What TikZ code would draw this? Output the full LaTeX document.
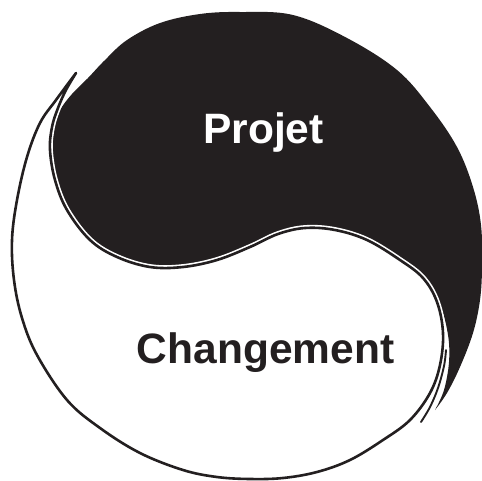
\documentclass[tikz,border=0pt]{standalone}
\usepackage{fontspec}
\setmainfont{Liberation Sans}
\definecolor{ink}{HTML}{231F20}
\tikzset{
  outline/.style={draw=ink, line width=2.6pt, line cap=round, line join=round,
    preaction={draw=white, line width=5.8pt}},
  tail/.style={draw=ink, line width=1.9pt, line cap=round,
    preaction={draw=white, line width=3.6pt}},
  label/.style={font=\fontsize{42.5}{42.5}\selectfont\bfseries, anchor=base, inner sep=0pt}
}
\begin{document}
\begin{tikzpicture}[x=1pt, y=-1pt]
\useasboundingbox (0,0) rectangle (482,480);

% dark half, with a pointed tail at the lower right
\fill[ink] plot[smooth, tension=0.6] coordinates {(50,150) (53,127) (60,110) (72,94) (88,78)
    (105,60) (127,40) (160,23) (200,14) (240,12) (293,15) (347,38) (397,70) (430,107)
    (457,147) (473,187) (481,225) (482,267) (480,300) (473,333) (460,367) (447,393) (435,410)}
  -- plot[smooth, tension=0.6] coordinates {(435,410) (444,390) (449,362) (448,335) (440,305)
    (423,278) (400,260) (367,240) (335,230) (305,228) (278,234) (250,247) (217,260)
    (183,267) (150,267) (117,257) (90,240) (67,210) (55,180) (50,150)} -- cycle;

% outline of the light half, pointed at the upper left
\draw[outline] plot[smooth, tension=0.6] coordinates {(76,73) (56,100) (40,123) (27,157)
    (17,200) (12,240) (14,280) (22,318) (37,355) (67,400) (100,428) (140,453) (183,470)
    (217,477) (250,479) (283,478) (317,472) (350,460) (383,440) (410,420) (430,393)
    (440,365) (443,333) (437,302) (423,278) (400,260) (367,240) (335,230) (305,228)
    (278,234) (250,247) (217,260) (183,267) (150,267) (117,257) (90,240) (67,210)
    (55,180) (50,150) (52,127) (58,108) (66,90) (76,73)};

% thin stroke along the dark tail
\draw[tail] plot[smooth, tension=0.6] coordinates {(421,422) (430,407) (438,388) (444,366) (446,350)};

\node[label, text=white] (projet) at (263.5,143) {Projet};
\node[label, text=ink] (changement) at (265.5,363) {Changement};
\end{tikzpicture}
\end{document}
